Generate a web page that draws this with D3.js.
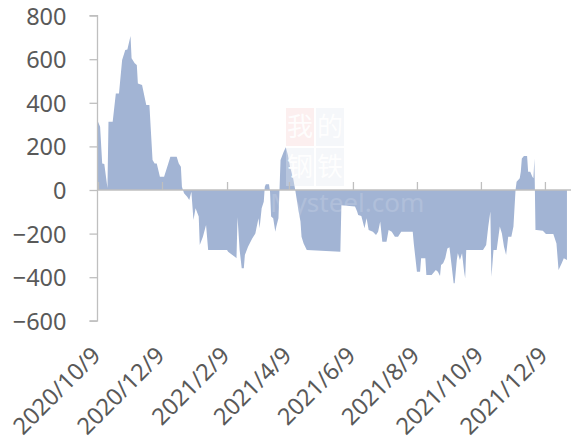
<!DOCTYPE html>
<html><head><meta charset="utf-8">
<script src="https://cdn.jsdelivr.net/npm/d3@7"></script>
<style>html,body{margin:0;padding:0;background:#fff;}svg{display:block;}</style>
</head><body>
<svg id="c" width="571" height="445"></svg>
<script>
const dates = ["2020-10-09","2020-10-11","2020-10-13","2020-10-15","2020-10-18","2020-10-19","2020-10-23","2020-10-26","2020-10-29",
"2020-11-01","2020-11-04","2020-11-06","2020-11-09","2020-11-10","2020-11-13","2020-11-15","2020-11-16","2020-11-20","2020-11-23","2020-11-24","2020-11-27","2020-11-30",
"2020-12-02","2020-12-04","2020-12-07","2020-12-11","2020-12-15","2020-12-17","2020-12-23","2020-12-25","2020-12-27","2020-12-28","2020-12-30",
"2021-01-02","2021-01-04","2021-01-06","2021-01-08","2021-01-10","2021-01-13","2021-01-14","2021-01-17","2021-01-20","2021-01-22",
"2021-02-09","2021-02-10","2021-02-17","2021-02-18","2021-02-19","2021-02-21","2021-02-23","2021-02-25","2021-02-26",
"2021-03-01","2021-03-05","2021-03-08","2021-03-09","2021-03-11","2021-03-12","2021-03-14","2021-03-16","2021-03-17","2021-03-18","2021-03-21","2021-03-22","2021-03-23","2021-03-25","2021-03-27","2021-03-28","2021-03-30","2021-03-31",
"2021-04-01","2021-04-04","2021-04-06","2021-04-08","2021-04-10","2021-04-13","2021-04-15","2021-04-18","2021-04-20","2021-04-21","2021-04-23","2021-04-26",
"2021-05-28","2021-05-29",
"2021-06-11","2021-06-13","2021-06-14","2021-06-17","2021-06-20","2021-06-22","2021-06-24","2021-06-28",
"2021-07-01","2021-07-03","2021-07-05","2021-07-07","2021-07-11","2021-07-13","2021-07-16","2021-07-19","2021-07-22","2021-07-25",
"2021-08-05","2021-08-06","2021-08-09","2021-08-12","2021-08-13","2021-08-17","2021-08-18","2021-08-23","2021-08-27","2021-08-29","2021-08-31",
"2021-09-01","2021-09-03","2021-09-05","2021-09-07","2021-09-09","2021-09-11","2021-09-13","2021-09-14","2021-09-16","2021-09-17","2021-09-19","2021-09-21","2021-09-23","2021-09-24","2021-09-25",
"2021-10-11","2021-10-14","2021-10-16","2021-10-18","2021-10-19","2021-10-21","2021-10-24","2021-10-27","2021-10-29","2021-10-31",
"2021-11-02","2021-11-04","2021-11-07","2021-11-09","2021-11-11","2021-11-12","2021-11-15","2021-11-16","2021-11-17","2021-11-19","2021-11-22","2021-11-23","2021-11-25","2021-11-27","2021-11-28","2021-11-29","2021-11-30",
"2021-12-01","2021-12-07","2021-12-10","2021-12-17","2021-12-20","2021-12-22","2021-12-25","2021-12-27","2021-12-30"];
const values = [313,290,122,119,9,313,313,443,443,
596,642,645,706,604,581,573,489,482,413,390,390,138,
122,122,61,61,122,153,153,122,107,15,-15,
-31,-46,-8,-138,-84,-122,-252,-214,-161,-275,
-275,-283,-309,-313,-125,-275,-359,-359,-298,
-260,-222,-199,-176,-130,-176,-84,-54,15,26,26,-8,-122,-130,-191,-168,-130,0,
138,176,196,161,107,54,0,-92,-145,-214,-245,-275,
-283,-70,
-76,-99,-115,-119,-176,-130,-183,-191,
-206,-191,-145,-237,-237,-183,-191,-214,-214,-191,
-191,-245,-375,-375,-313,-313,-390,-390,-367,-375,-394,
-344,-336,-313,-268,-263,-344,-428,-428,-321,-290,-321,-290,-375,-405,-275,
-275,-252,-168,-99,-398,-275,-275,-168,-199,-260,
-298,-214,-214,-168,0,38,54,84,145,156,156,84,84,61,54,145,-183,
-183,-187,-202,-202,-245,-367,-336,-313,-321];
const yTicks = [800,600,400,200,0,-200,-400,-600];
const xTickLabels = ["2020/10/9","2020/12/9","2021/2/9","2021/4/9","2021/6/9","2021/8/9","2021/10/9","2021/12/9"];
const xDomain = ["2020-10-09","2021-12-31"];

const parse = d3.timeParse("%Y-%m-%d");
const data = dates.map((d,i)=>({date:parse(d), v:values[i]}));
const tickDates = xTickLabels.map(s=>d3.timeParse("%Y/%m/%d")(s));

const svg = d3.select("#c");
const x = d3.scaleTime().domain(xDomain.map(parse)).range([98,568]);
const y = d3.scaleLinear().domain([-600,800]).range([320.8,15.6]);
const font = "'Noto Sans', 'Open Sans', sans-serif";
const grey = "#BFBFBF", txt = "#595959";

// area
svg.append("path").datum(data)
  .attr("fill","#A2B4D4")
  .attr("d", d3.area().x(d=>x(d.date)).y0(y(0)).y1(d=>y(d.v)));

// watermark
const wm = svg.append("g").attr("font-family","'Noto Sans CJK SC', sans-serif");
wm.append("rect").attr("x",286).attr("y",108).attr("width",28).attr("height",38).attr("fill","#f8dcdc").attr("opacity",0.45);
wm.append("rect").attr("x",316).attr("y",108).attr("width",28).attr("height",38).attr("fill","#e3e8f2").attr("opacity",0.35);
wm.append("rect").attr("x",286).attr("y",148).attr("width",28).attr("height",38).attr("fill","#e3e8f2").attr("opacity",0.35);
wm.append("rect").attr("x",316).attr("y",148).attr("width",28).attr("height",38).attr("fill","#e3e8f2").attr("opacity",0.35);
[["我",300,136],["的",330,136],["钢",300,176],["铁",330,176]].forEach(([t,cx,cy])=>{
  wm.append("text").attr("x",cx).attr("y",cy).attr("text-anchor","middle").attr("font-size",26).attr("fill","#ffffff").attr("opacity",0.9).text(t);
});
wm.append("text").attr("x",270).attr("y",212).attr("font-family",font).attr("font-size",26).attr("fill","#ffffff").attr("opacity",0.15).text("Mysteel.com");

// y axis
const ya = svg.append("g").attr("transform","translate(97.5,0)")
  .call(d3.axisLeft(y).tickValues(yTicks).tickSize(8).tickPadding(23).tickFormat(d3.format("d")));
ya.select(".domain").attr("stroke",grey).attr("stroke-width",1.3).attr("d",`M-8,${y(800)}H0V${y(-600)}H-8`);
ya.selectAll(".tick line").attr("stroke",grey).attr("stroke-width",1.3);
ya.selectAll(".tick text").attr("fill",txt).attr("font-size",23.5).attr("font-family",font).attr("dy","0.36em");

// x axis at zero
const xa = svg.append("g").attr("transform",`translate(0,${y(0)})`)
  .call(d3.axisTop(x).tickValues(tickDates).tickSize(8).tickFormat(""));
xa.select(".domain").attr("stroke",grey).attr("stroke-width",1.5).attr("d",`M98,0H571`);
xa.selectAll(".tick line").attr("stroke",grey).attr("stroke-width",1.3);

// x labels at bottom
svg.append("g").selectAll("text").data(tickDates).join("text")
  .attr("transform",(d)=>`translate(${x(d)+4},${357}) rotate(-45)`)
  .attr("text-anchor","end")
  .attr("fill",txt).attr("font-size",23.5).attr("font-family",font)
  .text((d,i)=>xTickLabels[i]);
</script>
</body></html>
